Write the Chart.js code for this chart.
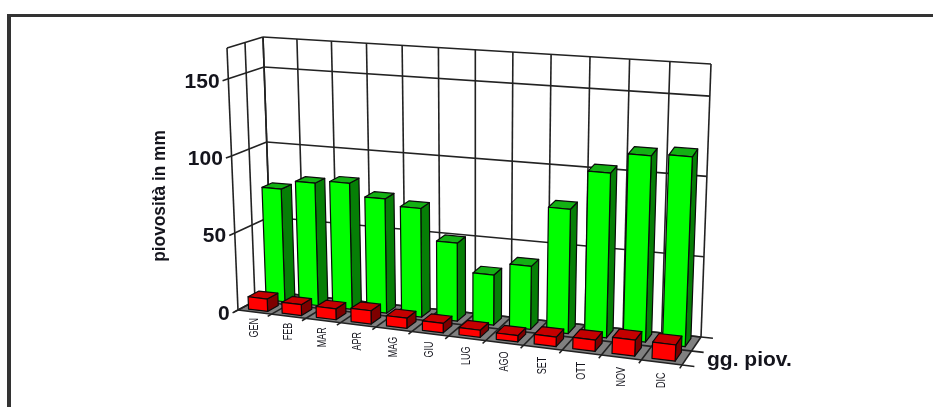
<!DOCTYPE html>
<html lang="it">
<head>
<meta charset="utf-8">
<title>Piovosità mensile</title>
<script src="https://cdn.jsdelivr.net/npm/chart.js@4"></script>
<style>
  html, body { margin: 0; padding: 0; background: #fff; }
  #frame { position: absolute; left: 7px; top: 14px; right: 0; bottom: 0; border-top: 3px solid #333; border-left: 4px solid #333; }
  #chart { position: absolute; left: 0; top: 0; }
</style>
</head>
<body>
<div id="frame"></div>
<canvas id="chart" width="933" height="407"></canvas>
<script>
const months = ["GEN","FEB","MAR","APR","MAG","GIU","LUG","AGO","SET","OTT","NOV","DIC"];
const piovosita = [74,80,82,74,70,50,32,40,78.5,103.5,116.5,118];
const giorniPiovosi = [8,7,7,8.5,6.5,6,4.5,4,6,7,10,10];
const yTickValues = [0,50,100,150];
const yAxisLabel = "piovosità in mm";
const depthAxisLabel = "gg. piov.";

// Corners of the plot box in canvas space: floor and ceiling, front and back.
const box = {
  floor: { fl:[238,310], fr:[682,365], bl:[272,292], br:[701,337] },
  top:   { fl:[227,48],  fr:[694,90],  bl:[263,37],  br:[711,64]  }
};
const perspective = 1.11;
const warp = u => u / (u + (1 - u) * perspective);
const lerp = (a, b, t) => [a[0] + (b[0] - a[0]) * t, a[1] + (b[1] - a[1]) * t];

// u: along the months, v: depth (0 front, 1 back), w: height as a fraction of the axis.
function project(u, v, w) {
  const t = warp(u);
  const pick = c => lerp(lerp(c.fl, c.fr, t), lerp(c.bl, c.br, t), v);
  return lerp(pick(box.floor), pick(box.top), w);
}

function polygon(ctx, pts, fill, stroke, width) {
  ctx.beginPath();
  pts.forEach((p, i) => i ? ctx.lineTo(p[0], p[1]) : ctx.moveTo(p[0], p[1]));
  ctx.closePath();
  if (fill) { ctx.fillStyle = fill; ctx.fill(); }
  if (stroke) { ctx.strokeStyle = stroke; ctx.lineWidth = width; ctx.stroke(); }
}
function line(ctx, a, b) {
  ctx.beginPath();
  ctx.moveTo(a[0], a[1]);
  ctx.lineTo(b[0], b[1]);
  ctx.stroke();
}

const GRID = "#222222";

const rows = [
  { dataset: 0, v0: 0.62, v1: 0.92, front: "#00ff00", top: "#14b014", side: "#067f06" },
  { dataset: 1, v0: 0.1, v1: 0.42, front: "#ff0000", top: "#c40000", side: "#7e0000" }
];

const depthChart = {
  id: "depthChart",
  beforeDatasetsDraw(chart) {
    const { ctx, scales: { x, y } } = chart;
    const n = x.ticks.length;
    const wOf = value => (y.bottom - y.getPixelForValue(value)) / y.height;
    ctx.save();
    ctx.lineJoin = "round";

    // Floor
    polygon(ctx, [project(0,0,0), project(1,0,0), project(1,1,0), project(0,1,0)], "#808080");

    ctx.strokeStyle = GRID;
    ctx.lineWidth = 1.6;

    // Back wall and side wall
    for (let i = 0; i <= n; i++) line(ctx, project(i / n, 1, 0), project(i / n, 1, 1));
    [0, 0.5, 1].forEach(v => line(ctx, project(0, v, 0), project(0, v, 1)));
    [...y.ticks.map(t => wOf(t.value)), 1].forEach(w => {
      line(ctx, project(0, 0, w), project(0, 1, w));
      line(ctx, project(0, 1, w), project(1, 1, w));
    });

    // Floor grid with its outward ticks
    for (let i = 0; i <= n; i++) line(ctx, project(i / n, -0.12, 0), project(i / n, 1, 0));
    [0, 0.5, 1].forEach(v => line(ctx, project(0, v, 0), project(1.025, v, 0)));

    // Value ticks and labels
    ctx.fillStyle = "#14141c";
    ctx.font = "bold 21px 'Liberation Sans'";
    ctx.textAlign = "right";
    ctx.textBaseline = "middle";
    y.ticks.forEach(t => {
      const w = wOf(t.value);
      const end = project(0, -0.16, w);
      line(ctx, end, project(0, 0, w));
      ctx.fillText(String(t.value), end[0] - 3, end[1] + 1);
    });

    // Month labels, set vertically and condensed
    ctx.font = "12px 'Liberation Sans'";
    ctx.textBaseline = "middle";
    ctx.textAlign = "right";
    x.ticks.forEach((t, i) => {
      const p = project((i + 0.5) / n, 0, 0);
      ctx.save();
      ctx.translate(p[0], p[1] + 6 + 4 * i / (n - 1));
      ctx.rotate(-Math.PI / 2);
      ctx.scale(0.75, 1);
      ctx.fillText(x.getLabelForValue(t.value), 0, 0);
      ctx.restore();
    });

    // Axis captions
    ctx.font = "bold 21px 'Liberation Sans'";
    ctx.textAlign = "left";
    ctx.fillText(depthAxisLabel, 707, 360);
    ctx.font = "bold 18px 'Liberation Sans'";
    ctx.save();
    ctx.translate(160, 196);
    ctx.rotate(-Math.PI / 2);
    ctx.scale(0.96, 1);
    ctx.textAlign = "center";
    ctx.fillText(yAxisLabel, 0, 0);
    ctx.restore();
    ctx.restore();
  },
  afterDatasetsDraw(chart) {
    const { ctx, chartArea: area, scales: { y } } = chart;
    ctx.save();
    ctx.lineJoin = "round";
    rows.forEach(row => {
      chart.getDatasetMeta(row.dataset).data.forEach(el => {
        const u0 = (el.x - el.width / 2 - area.left) / area.width;
        const u1 = (el.x + el.width / 2 - area.left) / area.width;
        const h = (y.bottom - el.y) / y.height;
        const { v0, v1 } = row;
        polygon(ctx, [project(u1,v0,0), project(u1,v1,0), project(u1,v1,h), project(u1,v0,h)], row.side, "#0a0a0a", 1.2);
        polygon(ctx, [project(u0,v0,h), project(u1,v0,h), project(u1,v1,h), project(u0,v1,h)], row.top, "#0a0a0a", 1.2);
        polygon(ctx, [project(u0,v0,0), project(u1,v0,0), project(u1,v0,h), project(u0,v0,h)], row.front, "#0a0a0a", 1.2);
      });
    });
    ctx.restore();
  }
};

new Chart(document.getElementById("chart"), {
  type: "bar",
  data: {
    labels: months,
    datasets: [
      { label: "piovosità in mm", data: piovosita, backgroundColor: "transparent", grouped: false },
      { label: depthAxisLabel, data: giorniPiovosi, backgroundColor: "transparent", grouped: false }
    ]
  },
  options: {
    responsive: false,
    animation: false,
    events: [],
    barPercentage: 0.57,
    categoryPercentage: 1,
    layout: { padding: { left: 230, right: 200, top: 40, bottom: 60 } },
    plugins: { legend: { display: false }, tooltip: { enabled: false } },
    scales: {
      x: { display: false, grid: { display: false } },
      y: {
        display: false,
        min: 0,
        max: 170,
        afterBuildTicks(scale) { scale.ticks = yTickValues.map(value => ({ value })); }
      }
    }
  },
  plugins: [depthChart]
});
</script>
</body>
</html>
